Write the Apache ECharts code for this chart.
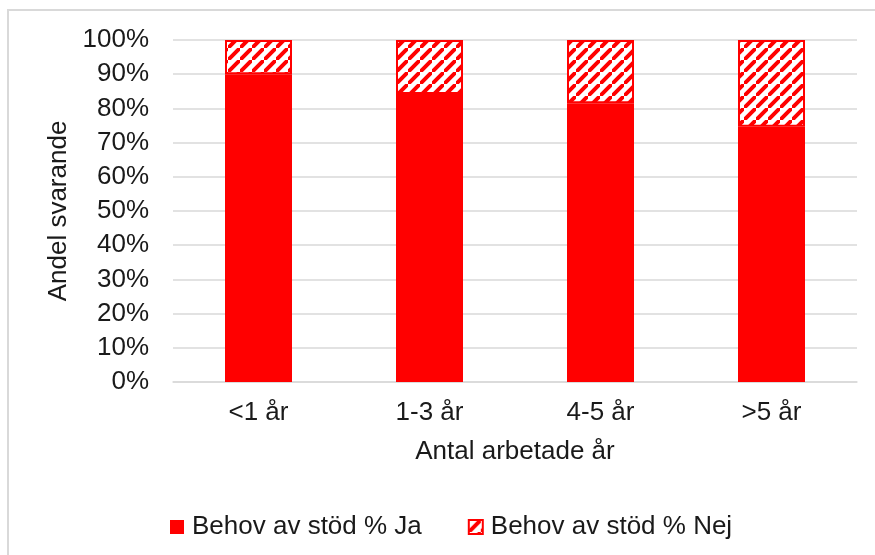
<!DOCTYPE html>
<html>
<head>
<meta charset="utf-8">
<script src="https://cdn.jsdelivr.net/npm/echarts@6/dist/echarts.min.js"></script>
<style>
  html, body { margin: 0; padding: 0; background: #fff; }
  #main { width: 875px; height: 555px; }
</style>
</head>
<body>
<div id="main"></div>
<script>
var categories = ["<1 år", "1-3 år", "4-5 år", ">5 år"];
var jaValues = [90, 84.2, 81.5, 74.6];
var nejValues = [10, 15.8, 18.5, 25.4];

// diagonal hatch for "Nej"
var T = 12;
var hatch = document.createElement("canvas");
hatch.width = T;
hatch.height = T;
var ctx = hatch.getContext("2d");
ctx.fillStyle = "#fff";
ctx.fillRect(0, 0, T, T);
ctx.strokeStyle = "#ff0000";
ctx.lineWidth = 4;
ctx.beginPath();
ctx.moveTo(-2, T + 2); ctx.lineTo(T + 2, -2);
ctx.moveTo(-T - 2, 2); ctx.lineTo(2, -T - 2);
ctx.moveTo(T - 2, 2 * T + 2); ctx.lineTo(2 * T + 2, T - 2);
ctx.stroke();

var font = "Liberation Sans, Arial, sans-serif";
var txt = "#1a1a1a";
var myChart = echarts.init(document.getElementById("main"));
myChart.setOption({
  animation: false,
  textStyle: { fontFamily: font },
  graphic: [
    {
      type: "rect",
      shape: { x: 8, y: 10, width: 900, height: 600 },
      style: { fill: "none", stroke: "#d9d9d9", lineWidth: 2 },
    },
  ],
  grid: { left: 173, right: 18, top: 40, bottom: 173 },
  legend: {
    left: 170,
    top: 514,
    padding: 0,
    itemWidth: 14,
    itemHeight: 14,
    itemGap: 46,
    icon: "rect",
    textStyle: { fontSize: 26, color: txt, fontFamily: font, padding: [0, 0, 0, 3] },
    data: ["Behov av stöd % Ja", "Behov av stöd % Nej"],
  },
  xAxis: {
    type: "category",
    data: categories,
    name: "Antal arbetade år",
    nameLocation: "middle",
    nameGap: 57,
    nameTextStyle: { fontSize: 26, color: txt },
    axisLine: { lineStyle: { color: "#d9d9d9", width: 1.5 } },
    axisTick: { show: false },
    axisLabel: { fontSize: 26, color: txt, margin: 18 },
  },
  yAxis: {
    type: "value",
    min: 0,
    max: 100,
    interval: 10,
    name: "Andel svarande",
    nameLocation: "middle",
    nameGap: 100,
    nameTextStyle: { fontSize: 26, color: txt },
    axisLabel: { fontSize: 26, color: txt, margin: 24, formatter: "{value}%" },
    splitLine: { lineStyle: { color: "#d9d9d9", width: 1.5 } },
    axisLine: { show: false },
    axisTick: { show: false },
  },
  series: [
    {
      name: "Behov av stöd % Ja",
      type: "bar",
      stack: "total",
      barWidth: 67,
      itemStyle: { color: "#ff0000" },
      data: jaValues,
    },
    {
      name: "Behov av stöd % Nej",
      type: "bar",
      stack: "total",
      barWidth: 67,
      itemStyle: {
        color: { image: hatch, repeat: "repeat" },
        borderColor: "#ff0000",
        borderWidth: 2,
      },
      data: nejValues,
    },
  ],
});
</script>
</body>
</html>
